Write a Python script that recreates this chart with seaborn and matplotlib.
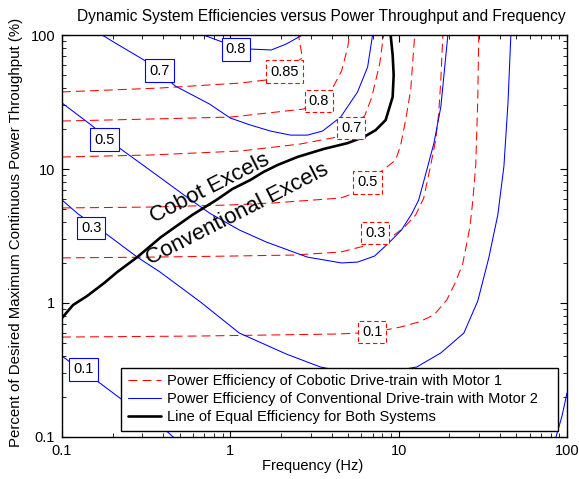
import matplotlib
matplotlib.use("Agg")
import matplotlib.pyplot as plt
import seaborn as sns
from matplotlib.lines import Line2D
from matplotlib.ticker import FixedLocator, FixedFormatter, LogLocator, NullFormatter

# ---------------- data (frequency in Hz, power in % of max) ----------------
# Cobotic drive-train efficiency contours (red dashed)
cobot_085_hz = [0.1, 0.38, 1.15, 1.64, 2.68, 2.54]
cobot_085_pct = [37.6, 40.2, 43.8, 46.2, 67.3, 100]
cobot_080_hz = [0.1, 0.334, 1.0, 2.72, 4.05, 4.58, 4.97, 5.11]
cobot_080_pct = [22.8, 23.6, 24.4, 28.0, 40.2, 53.9, 80.0, 100]
cobot_070_hz = [0.1, 0.334, 1.147, 2.61, 4.33, 6.28, 6.90, 7.71, 8.14]
cobot_070_pct = [12.29, 12.72, 13.62, 15.37, 17.33, 24.9, 33.9, 60.8, 100]
cobot_050_hz = [0.1, 0.334, 1.0, 1.80, 4.52, 5.47, 7.81, 9.60, 10.28, 11.0, 11.79, 12.45]
cobot_050_pct = [5.12, 5.20, 5.39, 5.58, 6.07, 6.62, 9.50, 11.67, 15.1, 23.2, 38.9, 100]
cobot_030_hz = [0.1, 0.334, 1.0, 2.37, 4.52, 5.94, 8.72, 10.71, 12.62, 14.09, 15.5, 16.6, 17.3, 17.8, 18.3]
cobot_030_pct = [2.17, 2.20, 2.24, 2.28, 2.40, 2.62, 3.00, 3.63, 4.54, 6.07, 10.7, 16.5, 26.2, 46.2, 100]
cobot_010_hz = [0.1, 0.663, 4.33, 5.78, 8.37, 10.28, 13.15, 16.2, 19.3, 21.5, 24.0, 26.5, 27.6, 28.7, 29.5, 29.9]
cobot_010_pct = [0.557, 0.567, 0.587, 0.597, 0.629, 0.662, 0.721, 0.814, 1.053, 1.386, 1.954, 3.69, 5.87, 10.7, 32.7, 100]

# Conventional drive-train efficiency contours (blue solid)
conv_080_hz = [0.691, 0.896, 1.30, 1.75, 2.15, 2.68]
conv_080_pct = [100, 88.7, 78.6, 77.3, 85.7, 100]
conv_070_hz = [0.173, 0.207, 0.321, 0.471, 0.750, 1.0, 1.315, 1.73, 2.28, 2.87, 3.53, 4.52, 5.70, 6.54, 7.0]
conv_070_pct = [100, 87.2, 62.9, 41.6, 30.6, 24.0, 21.3, 19.2, 17.9, 17.9, 19.2, 24.4, 37.6, 57.7, 100]
conv_050_hz = [0.1, 0.149, 0.215, 0.358, 0.540, 0.750, 1.13, 1.637, 2.87, 4.58, 5.70, 7.19, 8.72,
               10.4, 11.95, 13.15, 14.9, 16.2, 17.8, 19.6]
conv_050_pct = [31.1, 21.3, 14.6, 9.18, 6.29, 4.70, 3.51, 2.85, 2.20, 1.99, 2.02, 2.24, 2.80,
                3.51, 4.62, 5.87, 10.5, 15.6, 29.0, 100]
conv_030_hz = [0.1, 0.1245, 0.180, 0.280, 0.383, 0.663, 1.13, 2.15, 3.43, 6.36, 12.8, 17.8, 24.4,
               29.5, 34.3, 38.8, 42.2, 44.6, 46.4]
conv_030_pct = [5.87, 4.62, 3.33, 2.20, 1.70, 1.02, 0.597, 0.416, 0.333, 0.285, 0.333, 0.424, 0.597,
                1.035, 2.17, 4.54, 10.5, 31.1, 100]
conv_010a_hz = [0.1, 0.1116, 0.1616, 0.221, 0.399, 0.458]
conv_010a_pct = [0.402, 0.363, 0.262, 0.195, 0.1167, 0.1]
conv_010b_hz = [86.0, 93.4, 100]
conv_010b_pct = [0.1, 0.1434, 0.213]

# Line of equal efficiency (black)
equal_hz = [0.1, 0.1163, 0.141, 0.178, 0.2126, 0.280, 0.388, 0.594, 0.826, 1.028, 1.315, 1.572,
            1.905, 2.505, 3.58, 4.97, 6.19, 7.30, 8.37, 9.21, 9.34, 9.21, 8.96]
equal_pct = [0.773, 0.966, 1.128, 1.41, 1.70, 2.20, 3.11, 4.54, 5.87, 7.09, 8.28, 9.50,
             10.7, 12.3, 14.1, 15.6, 17.3, 19.5, 23.2, 34.5, 50.3, 70.9, 100]

# Contour labels
conv_label_text = ["0.8", "0.7", "0.5", "0.3", "0.1"]
conv_label_hz = [1.078, 0.380, 0.179, 0.149, 0.134]
conv_label_pct = [78.0, 54.3, 16.6, 3.63, 0.319]
cobot_label_text = ["0.85", "0.8", "0.7", "0.5", "0.3", "0.1"]
cobot_label_hz = [2.10, 3.36, 5.22, 6.54, 7.25, 6.95]
cobot_label_pct = [53.4, 32.4, 20.1, 7.93, 3.33, 0.608]

x_ticks = [0.1, 1, 10, 100]
x_tick_labels = ["0.1", "1", "10", "100"]
y_ticks = [0.1, 1, 10, 100]
y_tick_labels = ["0.1", "1", "10", "100"]

legend_labels = [
    "Power Efficiency of Cobotic Drive-train with Motor 1",
    "Power Efficiency of Conventional Drive-train with Motor 2",
    "Line of Equal Efficiency for Both Systems",
]

# ---------------- style ----------------
sns.set_theme(style="ticks", rc={
    "axes.edgecolor": "black", "text.color": "black", "axes.labelcolor": "black",
    "xtick.color": "black", "ytick.color": "black", "axes.linewidth": 1.0,
})
plt.rcParams["font.family"] = ["Liberation Sans", "DejaVu Sans"]

RED = "#ff0000"
BLUE = "#0000ff"
RED_DASH = (0, (8.6, 4.8))
FS = 10.5

fig = plt.figure(figsize=(5.79, 4.79), dpi=100)
ax = fig.add_axes([62 / 579, 42 / 479, 505 / 579, 402 / 479])
ax.set_xscale("log")
ax.set_yscale("log")

cobot_curves = [(cobot_085_hz, cobot_085_pct), (cobot_080_hz, cobot_080_pct),
                (cobot_070_hz, cobot_070_pct), (cobot_050_hz, cobot_050_pct),
                (cobot_030_hz, cobot_030_pct), (cobot_010_hz, cobot_010_pct)]
conv_curves = [(conv_080_hz, conv_080_pct), (conv_070_hz, conv_070_pct),
               (conv_050_hz, conv_050_pct), (conv_030_hz, conv_030_pct),
               (conv_010a_hz, conv_010a_pct), (conv_010b_hz, conv_010b_pct)]

for hz, pct in cobot_curves:
    sns.lineplot(x=hz, y=pct, sort=False, estimator=None, ax=ax,
                 color=RED, linewidth=0.75, linestyle=RED_DASH, zorder=2)
for hz, pct in conv_curves:
    sns.lineplot(x=hz, y=pct, sort=False, estimator=None, ax=ax,
                 color=BLUE, linewidth=0.75, zorder=2)
sns.lineplot(x=equal_hz, y=equal_pct, sort=False, estimator=None, ax=ax,
             color="black", linewidth=1.9, zorder=3)

for t, hz, pct in zip(conv_label_text, conv_label_hz, conv_label_pct):
    ax.text(hz, pct, t, ha="center", va="center", fontsize=FS, zorder=4,
            bbox=dict(boxstyle="square,pad=0.28", fc="white", ec=BLUE, lw=0.8))
for t, hz, pct in zip(cobot_label_text, cobot_label_hz, cobot_label_pct):
    ax.text(hz, pct, t, ha="center", va="center", fontsize=FS, zorder=4,
            bbox=dict(boxstyle="square,pad=0.28", fc="white", ec=RED, lw=0.8,
                      linestyle=(0, (4, 2.5))))

ax.text(0.760, 7.22, "Cobot Excels", rotation=27, ha="center", va="center", fontsize=16, zorder=4)
ax.text(1.10, 4.62, "Conventional Excels", rotation=27, ha="center", va="center", fontsize=16, zorder=4)

ax.set_xlim(0.1, 100)
ax.set_ylim(0.1, 100)
ax.xaxis.set_major_locator(FixedLocator(x_ticks))
ax.xaxis.set_major_formatter(FixedFormatter(x_tick_labels))
ax.yaxis.set_major_locator(FixedLocator(y_ticks))
ax.yaxis.set_major_formatter(FixedFormatter(y_tick_labels))
for axis in (ax.xaxis, ax.yaxis):
    axis.set_minor_locator(LogLocator(base=10, subs=range(2, 10)))
    axis.set_minor_formatter(NullFormatter())
ax.tick_params(which="both", direction="in", top=True, right=True, labelsize=FS, pad=5)
ax.tick_params(which="major", length=5, width=0.8)
ax.tick_params(which="minor", length=3, width=0.6)

ax.set_xlabel("Frequency (Hz)", fontsize=FS)
ax.set_ylabel("Percent of Desired Maximum Continuous Power Throughput (%)", fontsize=10.8)
ax.xaxis.set_label_coords(0.497, -0.055)
ax.yaxis.set_label_coords(-0.078, 0.51)

fig.text(321 / 579, 1 - 17 / 479, "Dynamic System Efficiencies versus Power Throughput and Frequency",
         ha="center", va="center", fontsize=11.2)

handles = [Line2D([], [], color=RED, lw=0.75, ls=RED_DASH),
           Line2D([], [], color=BLUE, lw=0.75),
           Line2D([], [], color="black", lw=1.9)]
leg = ax.legend(handles, legend_labels, loc="lower left",
                bbox_to_anchor=(0.117, 0.015, 0.865, 0.16), mode="expand",
                fontsize=FS, frameon=True, fancybox=False, edgecolor="black",
                framealpha=1, borderpad=0.45, handlelength=2.3, handletextpad=0.4,
                labelspacing=0.28, borderaxespad=0)
leg.get_frame().set_linewidth(1.0)
leg.set_zorder(6)

fig.savefig("out.png", dpi=100)
